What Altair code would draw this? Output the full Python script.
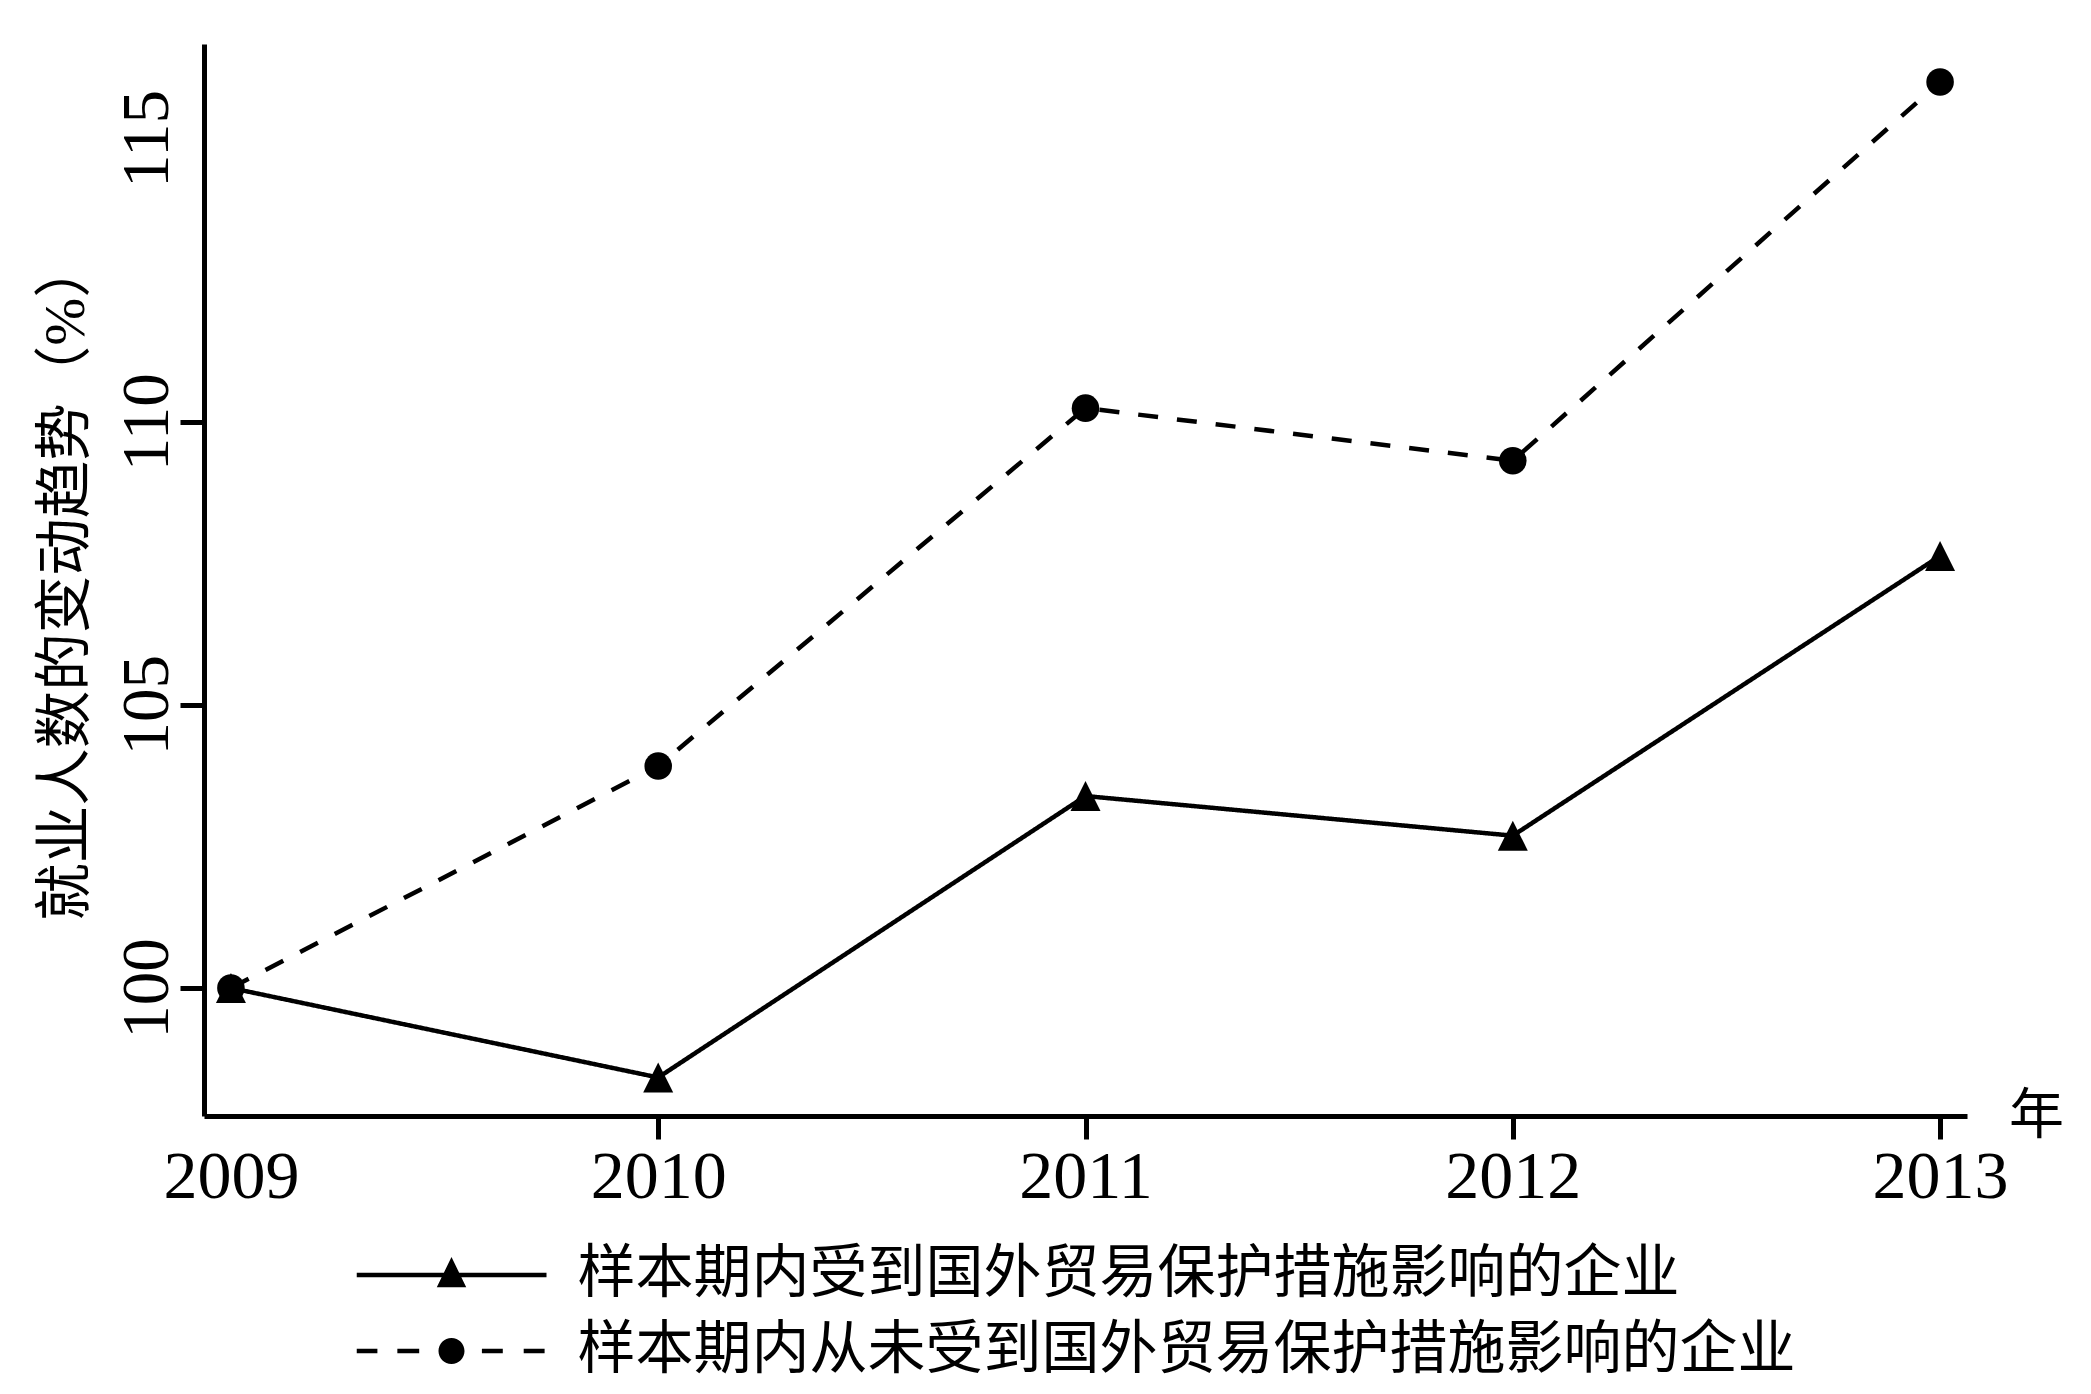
import altair as alt
import pandas as pd

# ---- data ----
years = [2009, 2010, 2011, 2012, 2013]
affected = [100.0, 98.42, 103.39, 102.69, 107.63]     # 样本期内受到国外贸易保护措施影响的企业
never = [100.0, 103.92, 110.24, 109.31, 116.0]        # 样本期内从未受到国外贸易保护措施影响的企业
series_names = [
    "样本期内受到国外贸易保护措施影响的企业",
    "样本期内从未受到国外贸易保护措施影响的企业",
]
y_ticks = [100, 105, 110, 115]
y_title = "就业人数的变动趋势（%）"
x_title = "年"

df = pd.DataFrame({
    "year": years * 2,
    "value": affected + never,
    "series": [series_names[0]] * len(years) + [series_names[1]] * len(years),
})

CJK = "Noto Sans CJK SC"
NUM = "Liberation Serif"

x_enc = alt.X(
    "year:Q",
    scale=alt.Scale(domain=[2008.937, 2013.063], nice=False, zero=False),
    axis=alt.Axis(
        values=years, format="d", title=x_title, grid=False,
        domainColor="black", domainWidth=5,
        tickColor="black", tickWidth=5, tickSize=23,
        tickOpacity={"condition": {"test": "datum.value == 2009", "value": 0}, "value": 1},
        labelFont=NUM, labelFontSize=68, labelColor="black", labelPadding=4,
        labelFlush=False, labelOverlap=False,
        titleFont=CJK, titleFontSize=55, titleFontWeight="normal", titleColor="black",
        titleX=1832, titleY=-1, titleAlign="center", titleBaseline="middle", titleAngle=0,
    ),
)
y_enc = alt.Y(
    "value:Q",
    scale=alt.Scale(domain=[97.74, 116.67], nice=False, zero=False),
    axis=alt.Axis(
        values=y_ticks, title=y_title, grid=False,
        domainColor="black", domainWidth=5,
        tickColor="black", tickWidth=5, tickSize=24,
        tickOpacity={"condition": {"test": "datum.value == 115", "value": 0}, "value": 1},
        labelFont=NUM, labelFontSize=67, labelColor="black", labelPadding=13,
        labelAngle=270, labelAlign="center", labelBaseline="alphabetic",
        labelOverlap=False,
        titleFont=f"{NUM}, {CJK}", titleFontSize=57.5, titleFontWeight="normal", titleColor="black",
        titleAngle=270, titleX=-138, titleY=536, titleAlign="center", titleBaseline="middle",
    ),
)

base = alt.Chart(df).encode(x=x_enc, y=y_enc)

lines = base.mark_line(color="black", strokeWidth=4.5).encode(
    strokeDash=alt.StrokeDash(
        "series:N",
        scale=alt.Scale(domain=series_names, range=[[1, 0], [20, 19]]),
        legend=None,
    ),
    detail="series:N",
)

tri_path = "M0,-1L1,1L-1,1Z"
points = base.mark_point(filled=True, color="black", opacity=1).encode(
    shape=alt.Shape("series:N", scale=alt.Scale(domain=series_names, range=[tri_path, "circle"]), legend=None),
    size=alt.Size("series:N", scale=alt.Scale(domain=series_names, range=[900, 760]), legend=None),
)

# legend symbols: line + marker drawn as filled shapes in the unit square
legend_solid = "M-1,-0.023H1V0.023H-1Z M0,-0.19L0.155,0.13L-0.155,0.13Z"
legend_dash = ("M-1,-0.023H-0.78V0.023H-1Z M-0.57,-0.023H-0.34V0.023H-0.57Z "
               "M0.32,-0.023H0.54V0.023H0.32Z M0.76,-0.023H0.98V0.023H0.76Z "
               "M-0.137,0A0.137,0.137,0,1,1,0.137,0A0.137,0.137,0,1,1,-0.137,0Z")

legend_layer = base.transform_filter("datum.year > 3000").mark_point(
    filled=True, color="black", strokeWidth=0, opacity=1
).encode(
    shape=alt.Shape(
        "series:N",
        scale=alt.Scale(domain=series_names, range=[legend_solid, legend_dash]),
        legend=alt.Legend(
            title=None, orient="none", legendX=152.5, legendY=1195, direction="vertical",
            symbolSize=36100, symbolStrokeWidth=0, symbolFillColor="black",
            symbolOpacity=1, symbolOffset=0,
            clipHeight=72, rowPadding=4, padding=0,
            labelFont=CJK, labelFontSize=58, labelColor="black", labelLimit=3000,
            labelOffset=31,
        ),
    )
)

chart = alt.layer(lines, points, legend_layer).resolve_scale(
    shape="independent", size="independent"
).properties(
    width=1763, height=1072,
    autosize=alt.AutoSizeParams(type="none"),
    padding={"left": 196, "top": 36, "right": 110, "bottom": 270},
    background="white",
).configure_view(stroke=None)

chart.save("out.html", embed_options={"renderer": "svg", "actions": False})
